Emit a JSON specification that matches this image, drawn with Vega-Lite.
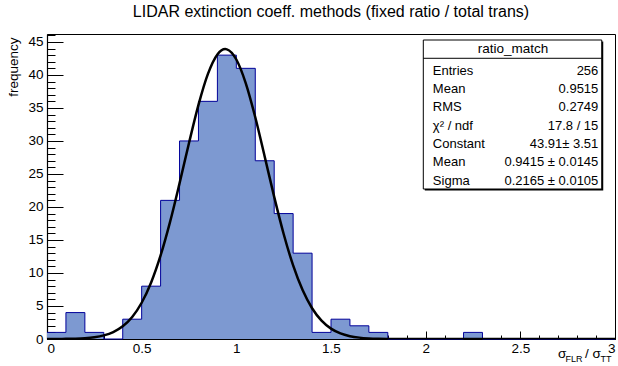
{
  "$schema": "https://vega.github.io/schema/vega-lite/v6.json",
  "width": 568,
  "height": 305,
  "autosize": {"type": "none"},
  "padding": {"left": 47, "top": 34, "right": 3, "bottom": 27},
  "background": "white",
  "config": {
    "font": "Liberation Sans",
    "view": {"stroke": "#000000", "strokeWidth": 1},
    "axis": {
      "grid": false,
      "labelFont": "Liberation Sans",
      "labelFontSize": 13.5,
      "labelColor": "#000000",
      "tickColor": "#000000",
      "domainColor": "#000000",
      "titleFont": "Liberation Sans",
      "titleFontWeight": "normal",
      "titleColor": "#000000",
      "zindex": 1
    }
  },
  "title": {
    "text": "LIDAR extinction coeff. methods (fixed ratio / total trans)",
    "font": "Liberation Sans",
    "fontSize": 16,
    "fontWeight": "normal",
    "color": "#000000",
    "anchor": "middle",
    "offset": 14
  },
  "datasets": {
    "hist": [
      {"lo": 0.0, "hi": 0.1, "count": 1},
      {"lo": 0.1, "hi": 0.2, "count": 4},
      {"lo": 0.2, "hi": 0.3, "count": 1},
      {"lo": 0.3, "hi": 0.4, "count": 0},
      {"lo": 0.4, "hi": 0.5, "count": 3},
      {"lo": 0.5, "hi": 0.6, "count": 8},
      {"lo": 0.6, "hi": 0.7, "count": 21},
      {"lo": 0.7, "hi": 0.8, "count": 30},
      {"lo": 0.8, "hi": 0.9, "count": 36},
      {"lo": 0.9, "hi": 1.0, "count": 43},
      {"lo": 1.0, "hi": 1.1, "count": 41},
      {"lo": 1.1, "hi": 1.2, "count": 27},
      {"lo": 1.2, "hi": 1.3, "count": 19},
      {"lo": 1.3, "hi": 1.4, "count": 13},
      {"lo": 1.4, "hi": 1.5, "count": 1},
      {"lo": 1.5, "hi": 1.6, "count": 3},
      {"lo": 1.6, "hi": 1.7, "count": 2},
      {"lo": 1.7, "hi": 1.8, "count": 1},
      {"lo": 1.8, "hi": 1.9, "count": 0},
      {"lo": 1.9, "hi": 2.0, "count": 0},
      {"lo": 2.0, "hi": 2.1, "count": 0},
      {"lo": 2.1, "hi": 2.2, "count": 0},
      {"lo": 2.2, "hi": 2.3, "count": 1},
      {"lo": 2.3, "hi": 2.4, "count": 0},
      {"lo": 2.4, "hi": 2.5, "count": 0},
      {"lo": 2.5, "hi": 2.6, "count": 0},
      {"lo": 2.6, "hi": 2.7, "count": 0},
      {"lo": 2.7, "hi": 2.8, "count": 0},
      {"lo": 2.8, "hi": 2.9, "count": 0},
      {"lo": 2.9, "hi": 3.0, "count": 0},
      {"lo": 3.0, "hi": 3.0, "count": 0}
    ],
    "fit": [
      {"x": 0.0, "y": 0.003}, {"x": 0.05, "y": 0.009}, {"x": 0.1, "y": 0.023},
      {"x": 0.15, "y": 0.055}, {"x": 0.2, "y": 0.125}, {"x": 0.25, "y": 0.267},
      {"x": 0.3, "y": 0.545}, {"x": 0.35, "y": 1.052}, {"x": 0.4, "y": 1.924},
      {"x": 0.45, "y": 3.338}, {"x": 0.5, "y": 5.49}, {"x": 0.55, "y": 8.56},
      {"x": 0.6, "y": 12.655}, {"x": 0.65, "y": 17.738}, {"x": 0.7, "y": 23.571},
      {"x": 0.75, "y": 29.693}, {"x": 0.8, "y": 35.465}, {"x": 0.85, "y": 40.159},
      {"x": 0.9, "y": 43.111}, {"x": 0.9415, "y": 43.91}, {"x": 0.95, "y": 43.876},
      {"x": 1.0, "y": 42.336}, {"x": 1.05, "y": 38.727}, {"x": 1.1, "y": 33.587},
      {"x": 1.15, "y": 27.616}, {"x": 1.2, "y": 21.528}, {"x": 1.25, "y": 15.91},
      {"x": 1.3, "y": 11.147}, {"x": 1.35, "y": 7.405}, {"x": 1.4, "y": 4.663},
      {"x": 1.45, "y": 2.784}, {"x": 1.5, "y": 1.576}, {"x": 1.55, "y": 0.846},
      {"x": 1.6, "y": 0.43}, {"x": 1.65, "y": 0.208}, {"x": 1.7, "y": 0.095},
      {"x": 1.75, "y": 0.041}, {"x": 1.8, "y": 0.017}, {"x": 1.9, "y": 0.002},
      {"x": 2.0, "y": 0.0002}, {"x": 2.5, "y": 0.0}, {"x": 3.0, "y": 0.0}
    ],
    "stats": [
      {
        "name": "ratio_match",
        "keys": ["Entries", "Mean", "RMS", "χ² / ndf", "Constant", "Mean", "Sigma"],
        "vals": ["256", "0.9515", "0.2749", "17.8 / 15", "43.91± 3.51", "0.9415 ± 0.0145", "0.2165 ± 0.0105"]
      }
    ]
  },
  "resolve": {"axis": {"x": "independent", "y": "independent"}},
  "layer": [
    {
      "data": {"name": "hist"},
      "mark": {"type": "area", "interpolate": "step-after", "color": "#7d99d1", "opacity": 1},
      "encoding": {
        "x": {
          "field": "lo", "type": "quantitative",
          "scale": {"domain": [0, 3], "nice": false, "zero": false},
          "axis": {
            "orient": "bottom",
            "values": [0, 0.5, 1, 1.5, 2, 2.5, 3],
            "format": "~g",
            "tickSize": -8,
            "labelPadding": 10,
            "title": null,
            "domainWidth": 1.2
          }
        },
        "y": {
          "field": "count", "type": "quantitative",
          "scale": {"domain": [0, 46.2], "nice": false},
          "axis": {
            "orient": "left",
            "values": [0, 5, 10, 15, 20, 25, 30, 35, 40, 45],
            "tickSize": -16,
            "labelPadding": 20,
            "title": "frequency",
            "titleFontSize": 13.5,
            "titleAngle": -90,
            "titleAlign": "right",
            "titleBaseline": "middle",
            "titleX": -34,
            "titleY": 3,
            "domainWidth": 1.2
          }
        }
      }
    },
    {
      "data": {"name": "hist"},
      "mark": {"type": "line", "interpolate": "step-after", "color": "#000099", "strokeWidth": 1},
      "encoding": {
        "x": {
          "field": "lo", "type": "quantitative",
          "axis": {
            "orient": "bottom",
            "values": [0, 0.1, 0.2, 0.3, 0.4, 0.5, 0.6, 0.7, 0.8, 0.9, 1, 1.1, 1.2, 1.3, 1.4, 1.5, 1.6, 1.7, 1.8, 1.9, 2, 2.1, 2.2, 2.3, 2.4, 2.5, 2.6, 2.7, 2.8, 2.9, 3],
            "tickSize": -4,
            "labels": false,
            "domain": false,
            "title": null
          }
        },
        "y": {
          "field": "count", "type": "quantitative",
          "axis": {
            "orient": "left",
            "values": [0, 1, 2, 3, 4, 5, 6, 7, 8, 9, 10, 11, 12, 13, 14, 15, 16, 17, 18, 19, 20, 21, 22, 23, 24, 25, 26, 27, 28, 29, 30, 31, 32, 33, 34, 35, 36, 37, 38, 39, 40, 41, 42, 43, 44, 45, 46],
            "tickSize": -8,
            "labels": false,
            "domain": false,
            "title": null
          }
        }
      }
    },
    {
      "data": {"name": "fit"},
      "mark": {"type": "line", "interpolate": "monotone", "color": "#000000", "strokeWidth": 2.5, "clip": true},
      "encoding": {
        "x": {"field": "x", "type": "quantitative", "axis": null},
        "y": {"field": "y", "type": "quantitative", "axis": null}
      }
    },
    {
      "data": {"name": "stats"},
      "mark": {"type": "rect", "fill": "#000000", "xOffset": 1.5, "x2Offset": 1.5, "yOffset": 1.5, "y2Offset": 1.5},
      "encoding": {
        "x": {"datum": 1.9875, "type": "quantitative", "axis": null},
        "x2": {"datum": 2.93},
        "y": {"datum": 45.29, "type": "quantitative", "axis": null},
        "y2": {"datum": 22.72}
      }
    },
    {
      "data": {"name": "stats"},
      "mark": {"type": "rect", "fill": "#ffffff", "stroke": "#000000", "strokeWidth": 1},
      "encoding": {
        "x": {"datum": 1.9875, "type": "quantitative", "axis": null},
        "x2": {"datum": 2.93},
        "y": {"datum": 45.29, "type": "quantitative", "axis": null},
        "y2": {"datum": 22.72}
      }
    },
    {
      "data": {"name": "stats"},
      "mark": {"type": "rule", "color": "#000000", "strokeWidth": 1},
      "encoding": {
        "x": {"datum": 1.9875, "type": "quantitative", "axis": null},
        "x2": {"datum": 2.93},
        "y": {"datum": 42.52, "type": "quantitative", "axis": null}
      }
    },
    {
      "data": {"name": "stats"},
      "mark": {"type": "text", "font": "Liberation Sans", "fontSize": 13.5, "align": "center", "baseline": "middle", "color": "#000000"},
      "encoding": {
        "x": {"datum": 2.461, "type": "quantitative", "axis": null},
        "y": {"datum": 43.93, "type": "quantitative", "axis": null},
        "text": {"field": "name", "type": "nominal"}
      }
    },
    {
      "data": {"name": "stats"},
      "mark": {"type": "text", "font": "Liberation Sans", "fontSize": 13, "align": "left", "baseline": "middle", "lineHeight": 18.3, "color": "#000000"},
      "encoding": {
        "x": {"datum": 2.038, "type": "quantitative", "axis": null},
        "y": {"datum": 40.64, "type": "quantitative", "axis": null},
        "text": {"field": "keys", "type": "nominal"}
      }
    },
    {
      "data": {"name": "stats"},
      "mark": {"type": "text", "font": "Liberation Sans", "fontSize": 13, "align": "right", "baseline": "middle", "lineHeight": 18.3, "color": "#000000"},
      "encoding": {
        "x": {"datum": 2.912, "type": "quantitative", "axis": null},
        "y": {"datum": 40.64, "type": "quantitative", "axis": null},
        "text": {"field": "vals", "type": "nominal"}
      }
    },
    {
      "data": {"name": "stats"},
      "mark": {"type": "text", "font": "Liberation Sans", "fontSize": 13.5, "align": "left", "baseline": "alphabetic", "color": "#000000", "text": "σ"},
      "encoding": {
        "x": {"datum": 2.699, "type": "quantitative", "axis": null},
        "y": {"datum": -2.88, "type": "quantitative", "axis": null}
      }
    },
    {
      "data": {"name": "stats"},
      "mark": {"type": "text", "font": "Liberation Sans", "fontSize": 9, "align": "left", "baseline": "alphabetic", "color": "#000000", "text": "FLR"},
      "encoding": {
        "x": {"datum": 2.7386, "type": "quantitative", "axis": null},
        "y": {"datum": -3.41, "type": "quantitative", "axis": null}
      }
    },
    {
      "data": {"name": "stats"},
      "mark": {"type": "text", "font": "Liberation Sans", "fontSize": 13.5, "align": "left", "baseline": "alphabetic", "color": "#000000", "text": "/ σ"},
      "encoding": {
        "x": {"datum": 2.8416, "type": "quantitative", "axis": null},
        "y": {"datum": -2.88, "type": "quantitative", "axis": null}
      }
    },
    {
      "data": {"name": "stats"},
      "mark": {"type": "text", "font": "Liberation Sans", "fontSize": 9, "align": "left", "baseline": "alphabetic", "color": "#000000", "text": "TT"},
      "encoding": {
        "x": {"datum": 2.9234, "type": "quantitative", "axis": null},
        "y": {"datum": -3.41, "type": "quantitative", "axis": null}
      }
    }
  ]
}
